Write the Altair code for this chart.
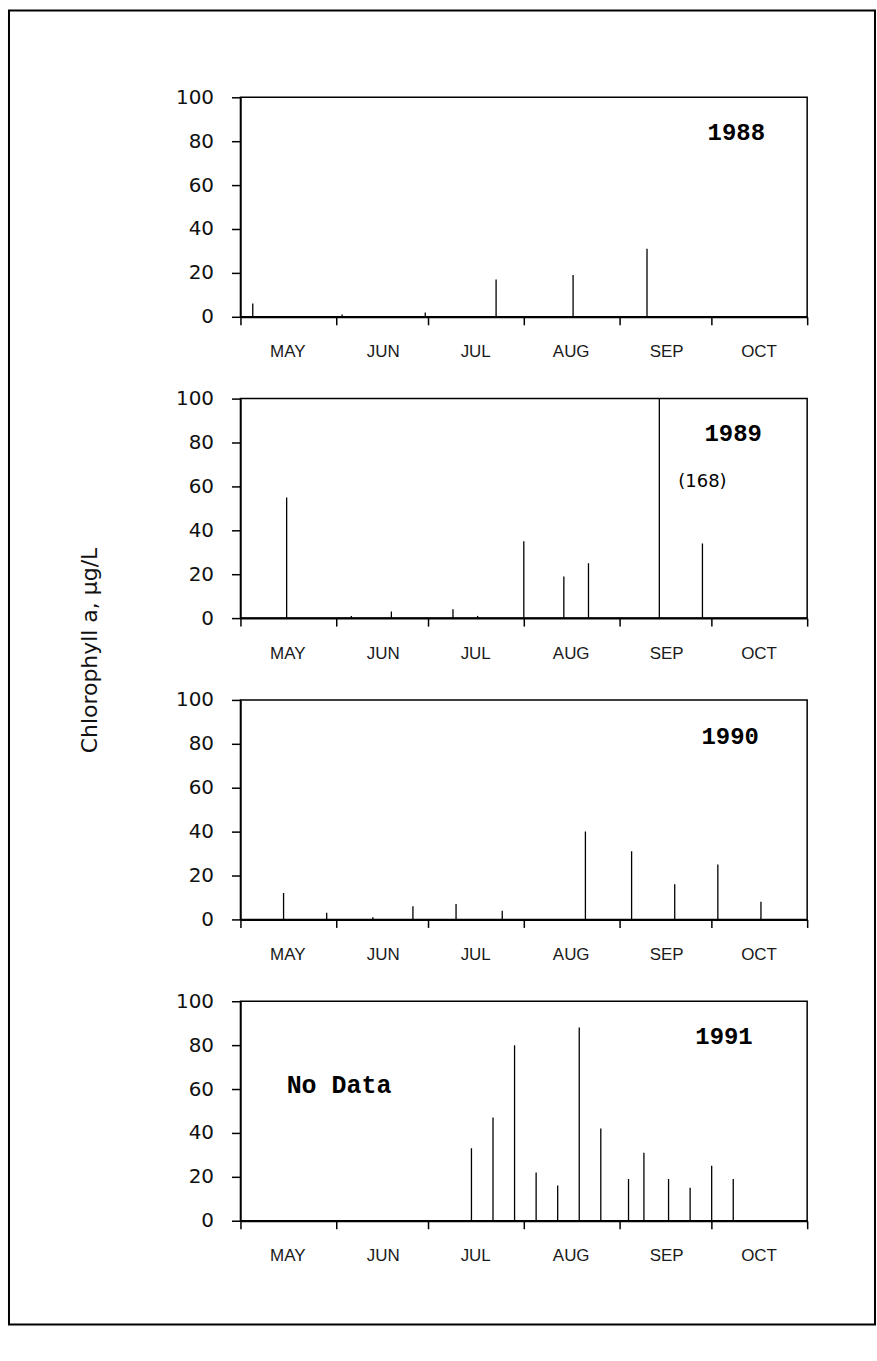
import altair as alt
import pandas as pd

# Day offsets are days since May 1 (season runs May 1 - Oct 31)
month_names = ["MAY", "JUN", "JUL", "AUG", "SEP", "OCT", ""]
month_starts = [0, 31, 61, 92, 123, 153, 184]

days_1988 = [4, 33, 60, 83, 108, 132]
chl_1988 = [6, 1, 2, 17, 19, 31]

days_1989 = [15, 36, 49, 69, 77, 92, 105, 113, 136, 150]
chl_1989 = [55, 1, 3, 4, 1, 35, 19, 25, 168, 34]

days_1990 = [14, 28, 43, 56, 70, 85, 112, 127, 141, 155, 169]
chl_1990 = [12, 3, 1, 6, 7, 4, 40, 31, 16, 25, 8]

days_1991 = [75, 82, 89, 96, 103, 110, 117, 126, 131, 139, 146, 153, 160]
chl_1991 = [33, 47, 80, 22, 16, 88, 42, 19, 31, 19, 15, 25, 19]

years = [1988, 1989, 1990, 1991]
year_label_day = [161, 160, 159, 157]
year_label_chl = [83.5, 84, 83, 83.5]

y_ticks = [0, 20, 40, 60, 80, 100]

W, H = 568, 220

xscale = alt.Scale(domain=[0, 184], nice=False, zero=False)
yscale = alt.Scale(domain=[0, 100], nice=False)

label_expr = "{}[indexof({}, datum.value)]".format(
    "[" + ",".join("'%s'" % m for m in month_names) + "]",
    "[" + ",".join(str(v) for v in month_starts) + "]",
)


def x_axis():
    return alt.Axis(values=month_starts, labelExpr=label_expr, labelOffset=47,
                    labelFlush=False, labelOverlap=False, tickSize=8, labelPadding=19,
                    labelFont="Liberation Sans", labelFontSize=17, labelColor="#1a1a1a",
                    grid=False, title=None, domainWidth=2, tickWidth=1.5)


def y_axis(with_title):
    kw = dict(values=y_ticks, tickSize=9, labelPadding=18, labelFont="DejaVu Sans",
              labelFontSize=20, labelColor="#111", grid=False, domainWidth=1.5, tickWidth=1.5)
    if with_title:
        kw.update(title="Chlorophyll a, μg/L", titleX=-151, titleY=252, titleAngle=270,
                  titleAlign="center", titleBaseline="middle", titleFont="DejaVu Sans",
                  titleFontSize=22, titleFontWeight="normal", titleColor="#111")
    else:
        kw.update(title=None)
    return alt.Axis(**kw)


def panel(i, days, chl, extras=None, border=False):
    df = pd.DataFrame({"day": days, "chl": chl})
    bars = alt.Chart(df).mark_rule(clip=True, color="black", strokeWidth=1.3).encode(
        x=alt.X("day:Q", scale=xscale, axis=x_axis()),
        y=alt.Y("chl:Q", scale=yscale, axis=y_axis(i == 1)),
        y2=alt.datum(0),
    )
    ydf = pd.DataFrame({"day": [year_label_day[i]], "chl": [year_label_chl[i]],
                        "label": [str(years[i])]})
    ylab = alt.Chart(ydf).mark_text(font="Liberation Mono", fontWeight="bold",
                                    fontSize=24, color="black").encode(
        x=alt.X("day:Q", scale=xscale), y=alt.Y("chl:Q", scale=yscale), text="label:N")
    layers = [bars, ylab]
    if extras is not None:
        layers.append(extras)
    if border:
        bdf = pd.DataFrame({"a": [0]})
        layers.append(alt.Chart(bdf).mark_rect(fillOpacity=0, stroke="black", strokeWidth=2).encode(
            x=alt.value(-232), x2=alt.value(636), y=alt.value(-87), y2=alt.value(1230)))
    return alt.layer(*layers).properties(width=W, height=H)


note168 = alt.Chart(pd.DataFrame({"day": [150], "chl": [62], "label": ["(168)"]})).mark_text(
    font="DejaVu Sans", fontSize=18, color="black").encode(
    x=alt.X("day:Q", scale=xscale), y=alt.Y("chl:Q", scale=yscale), text="label:N")

nodata = alt.Chart(pd.DataFrame({"day": [15], "chl": [62], "label": ["No Data"]})).mark_text(
    font="Liberation Mono", fontWeight="bold", fontSize=25, align="left", color="black").encode(
    x=alt.X("day:Q", scale=xscale), y=alt.Y("chl:Q", scale=yscale), text="label:N")

chart = alt.vconcat(
    panel(0, days_1988, chl_1988, border=True),
    panel(1, days_1989, chl_1989, extras=note168),
    panel(2, days_1990, chl_1990),
    panel(3, days_1991, chl_1991, extras=nodata),
    spacing=82,
    bounds="flush",
).properties(
    padding={"left": 7, "top": 7, "right": 0, "bottom": 0},
    background="white",
).configure_view(
    stroke="black", strokeWidth=1.5
).configure_axis(
    domainColor="black", tickColor="black"
)

chart.save("out.html", embed_options={"renderer": "svg", "actions": False})
